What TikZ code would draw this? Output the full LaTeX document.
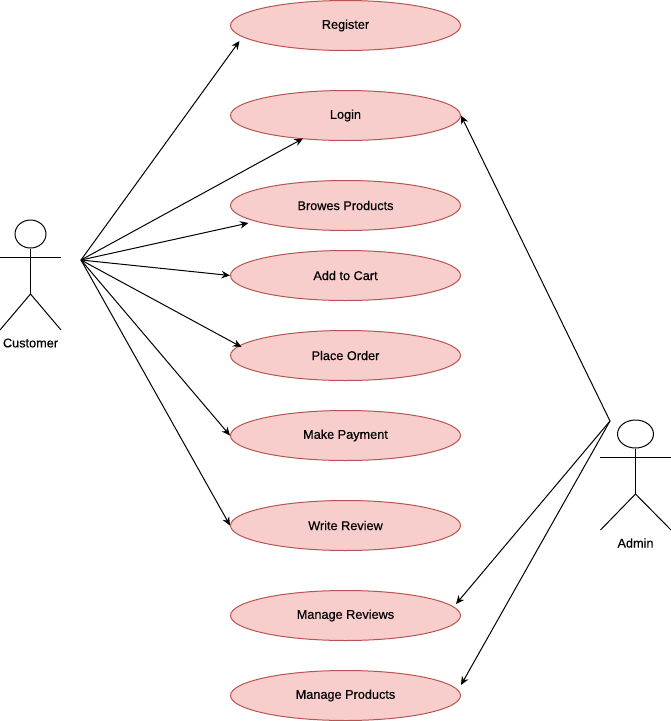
\documentclass[tikz,border=0pt]{standalone}
\usepackage{fontspec}
\setmainfont{Liberation Sans}
\newfontfamily\labelfont{Liberation Sans}[FakeBold=0.4]
\usetikzlibrary{arrows.meta,shapes.geometric}
\definecolor{casefill}{HTML}{F8CECC}
\definecolor{casedraw}{HTML}{B85450}
\tikzset{
  usecase/.style={ellipse,draw=casedraw,fill=casefill,minimum width=230pt,minimum height=50pt,inner sep=0pt,font=\labelfont\fontsize{12.7}{14}\selectfont},
  actorhead/.style={ellipse,draw,minimum width=#1,minimum height=28pt,inner sep=0pt},
  actorname/.style={font=\labelfont\fontsize{12.7}{14}\selectfont,inner sep=0pt},
  link/.style={-{Stealth[length=8.5pt,width=7.5pt]}}
}
\begin{document}
\begin{tikzpicture}[x=1pt,y=-1pt,line width=1pt]
\useasboundingbox (0,0) rectangle (671,721);

% use cases
\node [usecase] (register) at (345.5,25.5) {Register};
\node [usecase] (login) at (345.5,115.5) {Login};
\node [usecase] (browse) at (345.5,205.5) {Browes Products};
\node [usecase] (cart) at (345.5,275.5) {Add to Cart};
\node [usecase] (order) at (345.5,355.5) {Place Order};
\node [usecase] (payment) at (345.5,435.5) {Make Payment};
\node [usecase] (review) at (345.5,525.5) {Write Review};
\node [usecase] (mreviews) at (345.5,615.5) {Manage Reviews};
\node [usecase] (mproducts) at (345.5,695.5) {Manage Products};

% customer
\node [actorhead=31pt] (custhead) at (30.5,234) {};
\draw (custhead.south) -- (30.5,294) coordinate (custhip);
\draw (0,257) -- (61,257);
\draw (0,330) -- (custhip) -- (61,330);
\node [actorname] (custname) at (30.5,343) {Customer};
\coordinate (custhand) at (81,260);

% admin
\node [actorhead=36pt] (adminhead) at (635.5,434) {};
\draw (adminhead.south) -- (635.5,494) coordinate (adminhip);
\draw (600,457) -- (671,457);
\draw (600.5,530) -- (adminhip) -- (671,530);
\node [actorname] (adminname) at (635.5,543) {Admin};
\coordinate (adminhand) at (610,421);

% customer links
\draw [link] (custhand) -- ([shift={(9.5,15.5)}]register.west);
\draw [link] (custhand) -- ([shift={(-42.5,-2.5)}]login.south);
\draw [link] (custhand) -- ([shift={(18.5,17.5)}]browse.west);
\draw [link] (custhand) -- (cart.west);
\draw [link] (custhand) -- ([shift={(11.5,-8.5)}]order.west);
\draw [link] (custhand) -- (payment.west);
\draw [link] (custhand) -- (review.west);

% admin links
\draw [link] (adminhand) -- (login.east);
\draw [link] (adminhand) -- ([shift={(-5,-11.5)}]mreviews.east);
\draw [link] (adminhand) -- ([shift={(0,-10.5)}]mproducts.east);
\end{tikzpicture}
\end{document}
